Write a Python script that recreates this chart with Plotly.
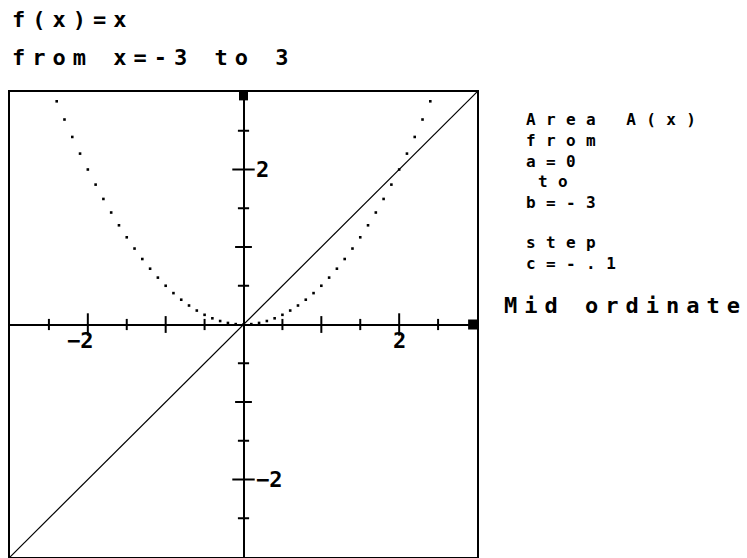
import plotly.graph_objects as go

# f(x) = x drawn from -3 to 3
line_x = [-3, 3]
line_y = [-3, 3]

# area A(x) points (mid ordinate, step .1)
area_x = [-2.4, -2.3, -2.2, -2.1, -2.0, -1.9, -1.8, -1.7, -1.6, -1.5, -1.4, -1.3,
          -1.2, -1.1, -1.0, -0.9, -0.8, -0.7, -0.6, -0.5, -0.4, -0.3, -0.2, -0.1,
          0.0, 0.1, 0.2, 0.3, 0.4, 0.5, 0.6, 0.7, 0.8, 0.9, 1.0, 1.1, 1.2,
          1.3, 1.4, 1.5, 1.6, 1.7, 1.8, 1.9, 2.0, 2.1, 2.2, 2.3, 2.4]
area_y = [2.88, 2.645, 2.42, 2.205, 2.0, 1.805, 1.62, 1.445, 1.28, 1.125, 0.98, 0.845,
          0.72, 0.605, 0.5, 0.405, 0.32, 0.245, 0.18, 0.125, 0.08, 0.045, 0.02, 0.005,
          0.0, 0.005, 0.02, 0.045, 0.08, 0.125, 0.18, 0.245, 0.32, 0.405, 0.5, 0.605, 0.72,
          0.845, 0.98, 1.125, 1.28, 1.445, 1.62, 1.805, 2.0, 2.205, 2.42, 2.645, 2.88]

# axis ticks
major_ticks = [-2, 2]
minor_ticks = [-1, 1]
half_ticks = [-2.5, -1.5, -0.5, 0.5, 1.5, 2.5]
tick_labels = {-2: "\u22122", 2: "2"}

W, H = 747, 558
L, R, T, B = 10, 477, 92, 557
FONT = "DejaVu Sans Mono"


def px(x):
    return (x - L) / (R - L)


def py(y):
    return (B - y) / (B - T)


fig = go.Figure()

# diagonal f(x)=x
fig.add_trace(go.Scatter(x=line_x, y=line_y, mode="lines",
                         line=dict(color="black", width=1.2)))

# dotted area curve
fig.add_trace(go.Scatter(x=area_x, y=area_y, mode="markers",
                         marker=dict(symbol="square", size=2.6, color="black",
                                     line=dict(width=0))))

# ticks on both axes
for ticks, size in [(major_ticks, 16), (minor_ticks, 12), (half_ticks, 8)]:
    fig.add_trace(go.Scatter(x=ticks, y=[0] * len(ticks), mode="markers",
                             marker=dict(symbol="line-ns-open", size=size, color="black",
                                         line=dict(color="black", width=2))))
    fig.add_trace(go.Scatter(x=[0] * len(ticks), y=ticks, mode="markers",
                             marker=dict(symbol="line-ew-open", size=size, color="black",
                                         line=dict(color="black", width=2))))

# arrow heads at axis ends
fig.add_trace(go.Scatter(x=[0], y=[2.95], mode="markers", cliponaxis=False,
                         marker=dict(symbol="square", size=9, color="black")))
fig.add_trace(go.Scatter(x=[2.95], y=[0], mode="markers", cliponaxis=False,
                         marker=dict(symbol="square", size=10, color="black")))

annotations = []


def label(text, x, y, size=22, spacing=7, xanchor="left"):
    annotations.append(dict(
        text=f'<span style="letter-spacing:{spacing}px">{text}</span>',
        xref="paper", yref="paper", x=px(x), y=py(y),
        xanchor=xanchor, yanchor="middle", showarrow=False,
        font=dict(family=FONT, size=size, color="black", weight="bold")))


# tick labels
tick_font = dict(family=FONT, size=22, color="black", weight="bold")
for v, t in tick_labels.items():
    annotations.append(dict(text=t, x=v, y=0, xref="x", yref="y",
                            xanchor="right" if v < 0 else "center",
                            xshift=8 if v < 0 else 0, yshift=-16,
                            showarrow=False, font=tick_font))
    annotations.append(dict(text=t, x=0, y=v, xref="x", yref="y",
                            xanchor="left", xshift=10, showarrow=False,
                            font=tick_font))

# header text
label("f(x)=x", 10, 19)
label("from x=-3 to 3", 10, 57)

# side panel
side = dict(size=16, spacing=10.4)
label("Area A(x)", 524, 119, **side)
label("from", 524, 140, **side)
label("a=0", 524, 161, **side)
label("to", 536, 181, **side)
label("b=-3", 524, 202, **side)
label("step", 524, 242, **side)
label("c=-.1", 524, 263, **side)
label("Mid ordinate", 502, 305)

fig.update_layout(
    width=W, height=H,
    margin=dict(l=L, r=W - R, t=T, b=H - B),
    plot_bgcolor="white", paper_bgcolor="white",
    showlegend=False,
    annotations=annotations,
    xaxis=dict(range=[-3, 3], showgrid=False, showticklabels=False, ticks="",
               zeroline=True, zerolinecolor="black", zerolinewidth=2,
               showline=True, mirror=True, linecolor="black", linewidth=2),
    yaxis=dict(range=[-3, 3], showgrid=False, showticklabels=False, ticks="",
               zeroline=True, zerolinecolor="black", zerolinewidth=2,
               showline=True, mirror=True, linecolor="black", linewidth=2),
)

fig.write_html("out.html", config={"displayModeBar": False},
               post_script="document.body.style.margin='0';")
